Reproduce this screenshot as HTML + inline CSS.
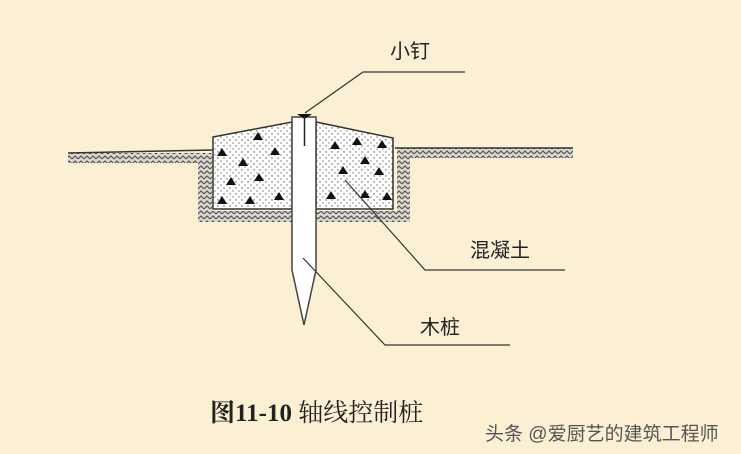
<!DOCTYPE html>
<html><head><meta charset="utf-8"><style>
html,body{margin:0;padding:0;width:741px;height:454px;overflow:hidden;background:#fcf0d4}
</style></head><body>
<svg width="741" height="454" viewBox="0 0 741 454" xmlns="http://www.w3.org/2000/svg">
<defs>
<pattern id="h" width="6" height="5" patternUnits="userSpaceOnUse">
<rect width="6" height="5" fill="#dcd8d0"/>
<path d="M0 4 L3 1 L6 4" stroke="#555" stroke-width="1.2" fill="none"/>
</pattern>
<pattern id="d" width="6" height="6" patternUnits="userSpaceOnUse">
<rect width="6" height="6" fill="#fff"/>
<circle cx="2" cy="2" r="0.7" fill="#555"/>
<circle cx="5" cy="5" r="0.7" fill="#777"/>
</pattern>
</defs>
<rect width="741" height="454" fill="#fcf0d4"/>
<rect x="68" y="153" width="144" height="10" fill="url(#h)"/>
<rect x="397" y="148" width="176" height="10" fill="url(#h)"/>
<rect x="198" y="153" width="14" height="60" fill="url(#h)"/>
<rect x="397" y="148" width="13" height="65" fill="url(#h)"/>
<rect x="198" y="211" width="212" height="11" fill="url(#h)"/>
<line x1="68" y1="153" x2="213" y2="150" stroke="#333" stroke-width="1.5"/>
<line x1="395" y1="148" x2="573" y2="148" stroke="#333" stroke-width="1.5"/>
<polygon points="213,137 292,122 292,209 213,209" fill="url(#d)" stroke="#333" stroke-width="1.5"/>
<polygon points="316,122 393,138 393,209 316,209" fill="url(#d)" stroke="#333" stroke-width="1.5"/>
<g fill="#111">
<path d="M258 132l5 8h-10z"/><path d="M222 148l5 8h-10z"/><path d="M243 158l5 8h-10z"/><path d="M275 147l5 8h-10z"/>
<path d="M231 177l5 8h-10z"/><path d="M259 173l5 8h-10z"/><path d="M222 196l5 8h-10z"/><path d="M250 196l5 8h-10z"/><path d="M279 192l5 8h-10z"/>
<path d="M335 141l5 8h-10z"/><path d="M357 137l5 8h-10z"/><path d="M382 140l5 8h-10z"/><path d="M365 156l5 8h-10z"/>
<path d="M343 166l5 8h-10z"/><path d="M379 167l5 8h-10z"/><path d="M331 191l5 8h-10z"/><path d="M365 190l5 8h-10z"/><path d="M387 192l5 8h-10z"/>
</g>
<polygon points="292,117 316,117 316,270 304,325 292,270" fill="#fff" stroke="#444" stroke-width="1.5"/>
<path d="M297 114h15l-7.5 5z" fill="#111"/>
<line x1="304.5" y1="116" x2="304.5" y2="146" stroke="#222" stroke-width="1.5"/>
<g stroke="#333" stroke-width="1.2" fill="none">
<polyline points="305,113 363,72 465,72"/>
<polyline points="345,180 425,270 565,270"/>
<polyline points="303,258 385,345 510,345"/>
</g>
<g font-family="'Liberation Sans','Noto Sans CJK SC',sans-serif" fill="#222">
<text x="390" y="58" font-size="20">小钉</text>
<text x="470" y="257" font-size="20">混凝土</text>
<text x="420" y="334" font-size="20">木桩</text>
</g>
<text x="210" y="421" font-family="'Liberation Serif','Noto Serif CJK SC',serif" font-size="25" fill="#222"><tspan font-weight="bold">图11-10</tspan>  轴线控制桩</text>
<text x="485" y="440" font-family="'Liberation Sans','Noto Sans CJK SC',sans-serif" font-size="19" fill="#555">头条 @爱厨艺的建筑工程师</text>
</svg>
</body></html>
